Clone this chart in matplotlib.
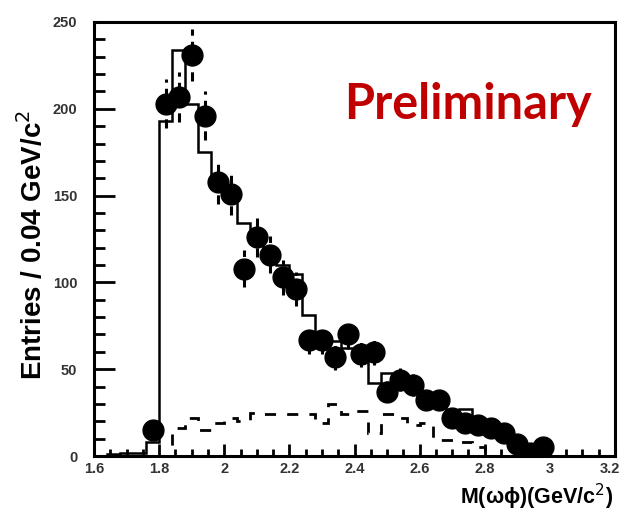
import numpy as np
import matplotlib
matplotlib.use("Agg")
import matplotlib.pyplot as plt
from matplotlib.ticker import MultipleLocator

# bin edges, 0.04 GeV wide
edges = np.round(np.arange(1.60, 3.2001, 0.04), 2)

# data points (bin centres, entries)
data_x = [1.78, 1.82, 1.86, 1.90, 1.94, 1.98, 2.02, 2.06, 2.10, 2.14,
          2.18, 2.22, 2.26, 2.30, 2.34, 2.38, 2.42, 2.46, 2.50, 2.54,
          2.58, 2.62, 2.66, 2.70, 2.74, 2.78, 2.82, 2.86, 2.90, 2.94, 2.98]
data_y = [15, 203, 207, 231, 196, 158, 151, 108, 126, 116,
          103, 96, 67, 67, 57, 70, 59, 60, 37, 44,
          41, 32, 32, 22, 19, 18, 16, 13, 7, 2, 5]

# solid histogram (fit / MC), one value per bin from 1.60
fit_y = [0, 1, 2, 2, 8, 193, 234, 203, 175, 160,
         150, 134, 124, 116, 110, 105, 81, 71, 66, 62,
         60, 42, 48, 45, 42, 35, 33, 22, 27, 20,
         17, 14, 8, 5, 3, 0, 0, 0, 0, 0]

# dashed histogram (background)
bkg_y = [0, 0, 0, 0, 0, 0, 16, 22, 15, 19,
         22, 20, 25, 24, 24, 24, 24, 19, 30, 24,
         26, 13, 24, 22, 18, 19, 9, 9, 8, 5,
         0, 0, 0, 0, 0, 0, 0, 0, 0, 0]

plt.rcParams['font.family'] = ['Liberation Sans', 'DejaVu Sans']

fig = plt.figure(figsize=(6.23, 5.27), dpi=100)
ax = fig.add_axes([0.1509, 0.1347, 0.8363, 0.8236])

ax.stairs(fit_y, edges, color='black', lw=1.8)
ax.stairs(bkg_y, edges, color='black', lw=2.0, linestyle=(0, (4, 4)))

err = np.sqrt(data_y)
eb = ax.errorbar(data_x, data_y, yerr=err, fmt='o', color='black',
                 markersize=15, elinewidth=2.2, capsize=0, zorder=5)
eb[2][0].set_linestyle((0, (3, 2)))

ax.set_xlim(1.6, 3.2)
ax.set_ylim(0, 250)

ax.xaxis.set_major_locator(MultipleLocator(0.2))
ax.xaxis.set_minor_locator(MultipleLocator(0.05))
ax.yaxis.set_major_locator(MultipleLocator(50))
ax.yaxis.set_minor_locator(MultipleLocator(10))
# last label "3.2" is drawn separately so it stays inside the figure
ax.xaxis.set_major_formatter(
    plt.FuncFormatter(lambda v, p: "" if v > 3.19 else f"{v:g}"))

ax.tick_params(axis='both', which='both', direction='in', top=False,
               right=False, width=2, colors='black', labelcolor='#333333',
               labelsize=10.5, labelfontfamily='Liberation Sans')
ax.tick_params(axis='x', which='major', length=9, pad=4)
ax.tick_params(axis='x', which='minor', length=5)
ax.tick_params(axis='y', which='major', length=15, pad=12)
ax.tick_params(axis='y', which='minor', length=8)

fig.canvas.draw()
for lab in ax.get_xticklabels() + ax.get_yticklabels():
    lab.set_fontweight('bold')

fig.text(0.996, 0.1241, "3.2", ha='right', va='top', fontsize=10.5,
         fontweight='bold', color='#333333')

for s in ax.spines.values():
    s.set_linewidth(2.2)

fig.text(0.053, 0.535, "Entries / 0.04 GeV/c$^2$", rotation=90,
         ha='center', va='center', fontsize=20, fontweight='bold')
fig.text(0.984, 0.057, "M(ωϕ)(GeV/c$^2$)", ha='right',
         va='center', fontsize=15.5, fontweight='bold')

ax.text(0.955, 0.81, "Preliminary", transform=ax.transAxes, ha='right',
        va='center', fontsize=35, fontweight='bold', color='#C00000',
        family=['Lato', 'DejaVu Sans'])

fig.savefig("out.png", dpi=100)
